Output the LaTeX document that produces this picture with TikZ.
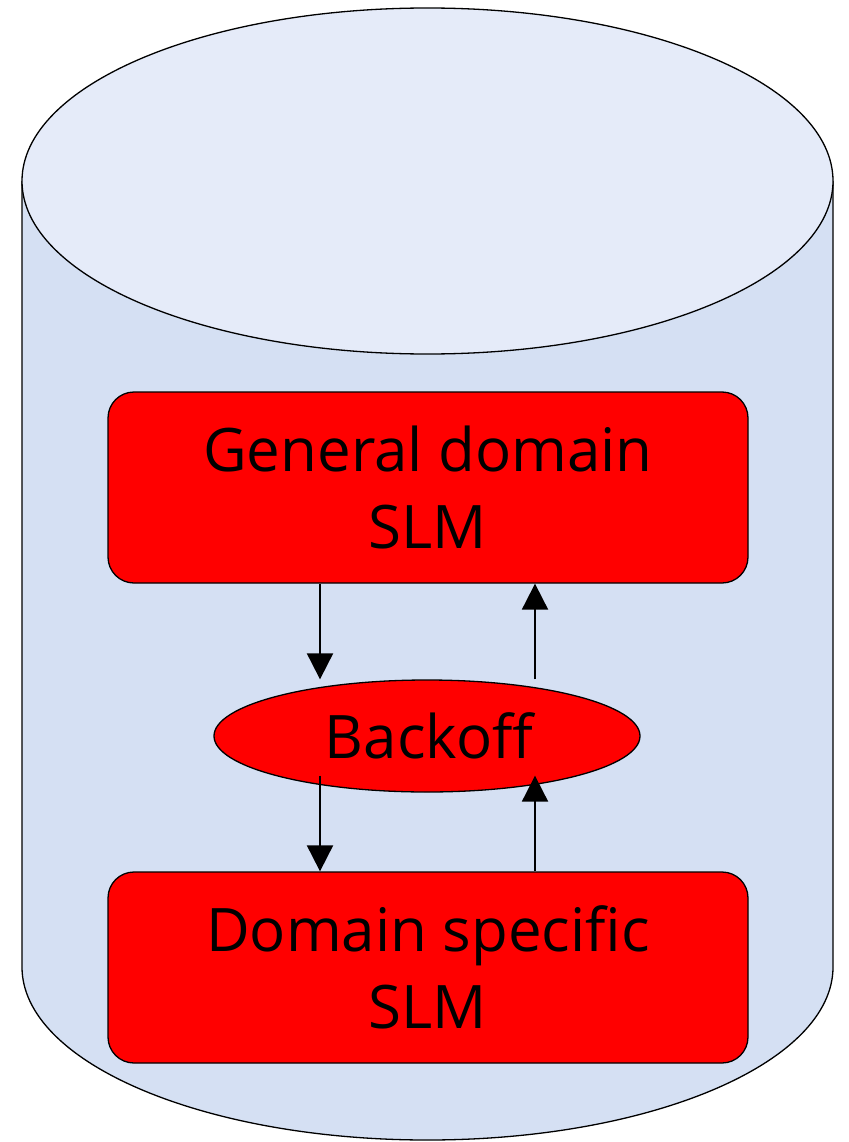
\documentclass[tikz,border=0pt]{standalone}
\usepackage{fontspec}
\setmainfont{Open Sans}
\usetikzlibrary{shapes.geometric,arrows.meta,calc}
\definecolor{drumside}{HTML}{D5E0F3}
\definecolor{drumtop}{HTML}{E5EBF9}
\definecolor{boxred}{HTML}{FF0000}
\tikzset{
  model/.style={draw=black, line width=1.3pt, fill=boxred, rounded corners=26pt,
    minimum width=640pt, minimum height=191pt, align=center, inner sep=0pt,
    font=\fontsize{60}{77}\selectfont},
  hub/.style={draw=black, line width=1.3pt, fill=boxred, ellipse,
    minimum width=426pt, minimum height=112pt, inner sep=0pt,
    font=\fontsize{60}{77}\selectfont},
  flow/.style={line width=2pt, -{Triangle[length=26pt,width=26pt]}},
}
\begin{document}
\begin{tikzpicture}[x=1pt,y=-1pt]
\useasboundingbox (0,0) rectangle (848,1142);
% cylinder body
\fill[drumside] (22,181) -- (22,967) arc[start angle=180,end angle=360,x radius=405.5,y radius=-173] -- (833,181) -- cycle;
\draw[line width=1.3pt] (22,181) -- (22,967) arc[start angle=180,end angle=360,x radius=405.5,y radius=-173] -- (833,181);
% cylinder lid
\draw[line width=1.3pt, fill=drumtop] (427.5,181) ellipse[x radius=405.5,y radius=173];
% models and backoff
\node[model] (gen) at (428,487.5) {General domain\\SLM};
\node[model] (dom) at (428,967.5) {Domain specific\\SLM};
\node[hub] (back) at (427,736) {\hspace{4pt}Backoff};
% connectors
\coordinate (bl) at ($(back.south)+(-107,-17)$);
\coordinate (br) at ($(back.south)+(108,-17)$);
\draw[flow] (gen.south -| 320,0) -- (back.north -| 320,0);
\draw[flow] (back.north -| 535,0) -- (gen.south -| 535,0);
\draw[flow] (bl) -- (dom.north -| bl);
\draw[flow] (dom.north -| br) -- (br);
\end{tikzpicture}
\end{document}
